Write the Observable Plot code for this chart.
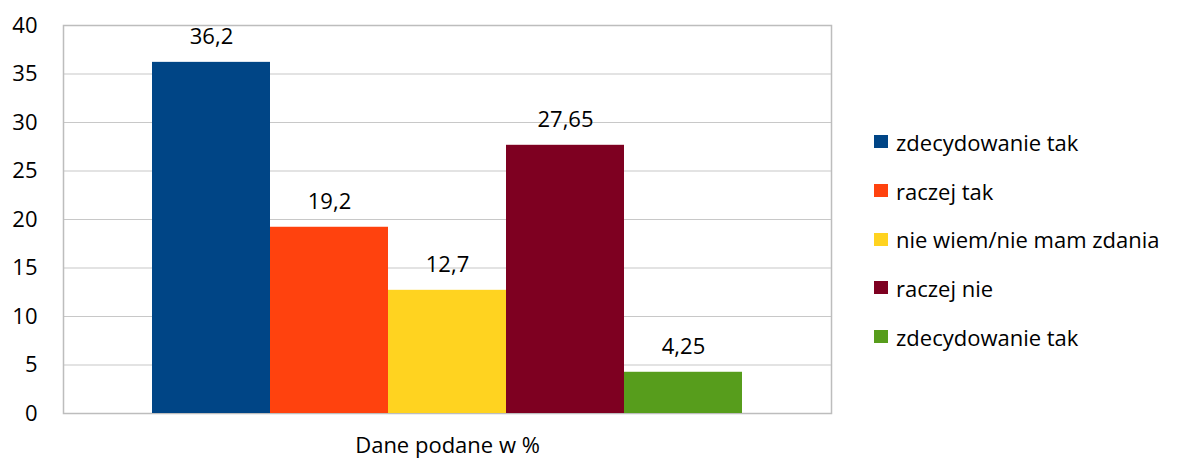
<!DOCTYPE html>
<html>
<head>
<meta charset="utf-8">
<script src="https://cdn.jsdelivr.net/npm/d3@7"></script>
<script src="https://cdn.jsdelivr.net/npm/@observablehq/plot@0.6"></script>
<style>
  html, body { margin: 0; padding: 0; background: #fff; }
  #wrap { position: relative; width: 1178px; height: 459px; overflow: hidden; font-family: "Open Sans", sans-serif; }
  #legend { position: absolute; left: 874px; top: 117.5px; }
  .item { display: flex; align-items: center; height: 48.7px; font-size: 22px; color: #000; white-space: nowrap; }
  .sw { width: 14px; height: 13px; margin-right: 8px; flex: none; }
</style>
</head>
<body>
<div id="wrap"></div>
<script>
const categories = ["zdecydowanie tak", "raczej tak", "nie wiem/nie mam zdania", "raczej nie", "zdecydowanie tak"];
const values = [36.2, 19.2, 12.7, 27.65, 4.25];
const colors = ["#004586", "#ff420e", "#ffd320", "#7e0021", "#579d1c"];
const yTicks = [0, 5, 10, 15, 20, 25, 30, 35, 40];
const groupLabel = "Dane podane w %";

const data = categories.map((c, i) => ({id: i, label: c, value: values[i], color: colors[i]}));
const fmt = v => String(v).replace(".", ",");

const chart = Plot.plot({
  width: 1178,
  height: 459,
  marginLeft: 63,
  marginRight: 347,
  marginTop: 25,
  marginBottom: 46,
  style: {fontFamily: "'Open Sans', sans-serif", fontSize: "22px", color: "#000", background: "#fff"},
  x: {type: "band", domain: data.map(d => d.id), paddingInner: 0, paddingOuter: 0.753, axis: null},
  y: {domain: [0, 40], ticks: yTicks, label: null},
  marks: [
    Plot.ruleY(yTicks, {stroke: "#c8c8c8", strokeWidth: 1.2}),
    Plot.frame({stroke: "#bdbdbd", strokeWidth: 1.5}),
    Plot.axisY({ticks: yTicks, tickSize: 0, tickPadding: 26, fontSize: 22, label: null, tickFormat: d => String(d)}),
    Plot.barY(data, {x: "id", y: "value", fill: d => d.color}),
    Plot.text(data, {x: "id", y: "value", text: d => fmt(d.value), dy: -25, fontSize: 22, fill: "#000"}),
    Plot.text([groupLabel], {frameAnchor: "bottom", text: d => d, dy: 39, fontSize: 22, fill: "#000"})
  ]
});

const wrap = document.getElementById("wrap");
wrap.appendChild(chart);

const legend = document.createElement("div");
legend.id = "legend";
data.forEach(d => {
  const item = document.createElement("div");
  item.className = "item";
  const sw = document.createElement("span");
  sw.className = "sw";
  sw.style.background = d.color;
  const t = document.createElement("span");
  t.textContent = d.label;
  item.appendChild(sw);
  item.appendChild(t);
  legend.appendChild(item);
});
wrap.appendChild(legend);
</script>
</body>
</html>
